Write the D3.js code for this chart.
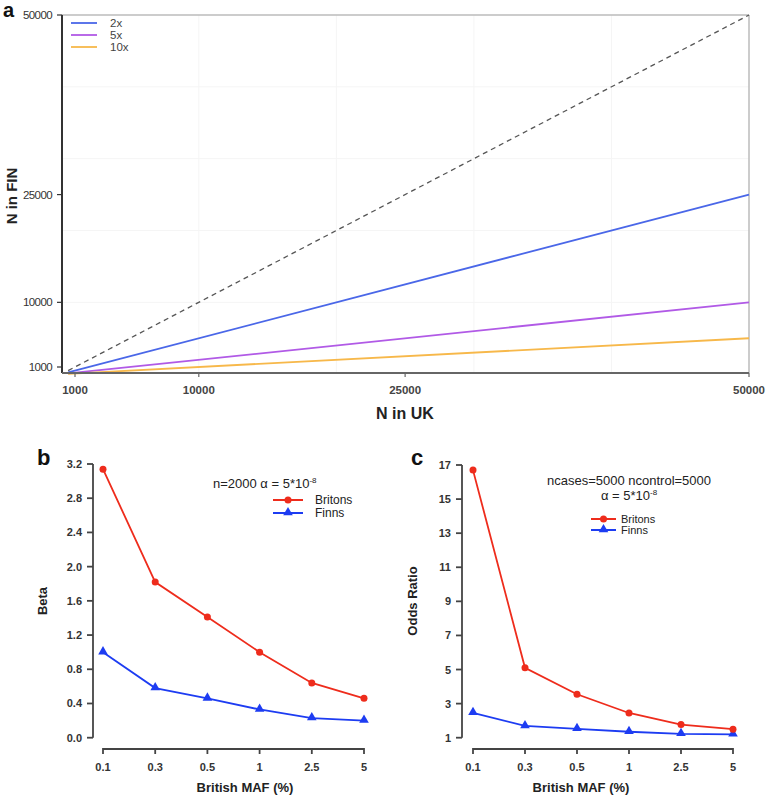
<!DOCTYPE html>
<html><head><meta charset="utf-8">
<script src="https://cdn.jsdelivr.net/npm/d3@7"></script>
<style>
body{margin:0;background:#fff;}
svg{display:block;font-family:"Liberation Sans",Arial,sans-serif;}
</style></head>
<body>
<svg id="chart" width="768" height="796"></svg>
<script>
// ---------- Panel a data ----------
const aTicksX = [1000, 10000, 25000, 50000];
const aTicksY = [1000, 10000, 25000, 50000];
const aGrid = [10000, 20000, 30000, 40000];
const ukN = [500, 50000];
const finEqual = [500, 50000];
const fin2x = [250, 25000];
const fin5x = [100, 10000];
const fin10x = [50, 5000];
const aLegend = ["2x", "5x", "10x"];

// ---------- Panel b/c data ----------
const mafCats = ["0.1", "0.3", "0.5", "1", "2.5", "5"];
const betaBritons = [3.14, 1.82, 1.41, 1.0, 0.64, 0.46];
const betaFinns = [1.0, 0.58, 0.46, 0.33, 0.23, 0.20];
const betaTicks = [0.0, 0.4, 0.8, 1.2, 1.6, 2.0, 2.4, 2.8, 3.2];
const orBritons = [16.7, 5.1, 3.55, 2.45, 1.77, 1.5];
const orFinns = [2.46, 1.69, 1.52, 1.35, 1.23, 1.2];
const orTicks = [1, 3, 5, 7, 9, 11, 13, 15, 17];
const seriesNames = ["Britons", "Finns"];

const svg = d3.select("#chart");
const colBlue = "#4a67e8", colPurple = "#b15ae6", colOrange = "#f7b84a";
const red = "#ee2c1c", blue = "#1d3cf2";

// ================= Panel a =================
const ax = d3.scaleLinear().domain([1000, 50000]).range([75, 749]);
const ay = d3.scaleLinear().domain([1000, 50000]).range([367, 15]);
const aLeft = 62, aRight = 749, aTop = 15, aBottom = 373;
const ga = svg.append("g");

// grid
ga.selectAll("line.gx").data(aGrid).join("line")
  .attr("x1", d => ax(d)).attr("x2", d => ax(d)).attr("y1", aTop).attr("y2", aBottom)
  .attr("stroke", "#f5f5f5").attr("stroke-width", 1);
ga.selectAll("line.gy").data(aGrid).join("line")
  .attr("y1", d => ay(d)).attr("y2", d => ay(d)).attr("x1", aLeft).attr("x2", aRight)
  .attr("stroke", "#f5f5f5").attr("stroke-width", 1);
// frame (top/right)
ga.append("line").attr("x1", aLeft).attr("x2", aRight).attr("y1", aTop).attr("y2", aTop).attr("stroke", "#bbb").attr("stroke-width", 1.5);
ga.append("line").attr("x1", aRight).attr("x2", aRight).attr("y1", aTop).attr("y2", aBottom).attr("stroke", "#bbb").attr("stroke-width", 1.5);

// lines
const aLine = d3.line().x(d => ax(d[0])).y(d => ay(d[1]));
const mk = arr => ukN.map((u, i) => [u, arr[i]]);
ga.append("path").attr("d", aLine(mk(finEqual))).attr("fill", "none").attr("stroke", "#555").attr("stroke-width", 1.3).attr("stroke-dasharray", "5,4");
[[fin2x, colBlue], [fin5x, colPurple], [fin10x, colOrange]].forEach(([arr, c]) => {
  ga.append("path").attr("d", aLine(mk(arr))).attr("fill", "none").attr("stroke", c).attr("stroke-width", 1.8);
});

// axes
ga.append("line").attr("x1", aLeft).attr("x2", aLeft).attr("y1", aTop).attr("y2", aBottom).attr("stroke", "#333").attr("stroke-width", 2);
ga.append("line").attr("x1", aLeft).attr("x2", aRight).attr("y1", aBottom).attr("y2", aBottom).attr("stroke", "#666").attr("stroke-width", 2);
ga.selectAll("line.ty").data(aTicksY).join("line")
  .attr("x1", aLeft - 5).attr("x2", aLeft).attr("y1", d => ay(d)).attr("y2", d => ay(d)).attr("stroke", "#333").attr("stroke-width", 1.2);
ga.selectAll("text.ty").data(aTicksY).join("text")
  .attr("x", aLeft - 10).attr("y", d => ay(d) + 4).attr("text-anchor", "end")
  .attr("font-family", "'Liberation Sans Narrow','Arial Narrow',sans-serif").attr("font-size", 11.5)
  .attr("fill", "#333").style("letter-spacing", "-0.6px").text(d => d);
ga.selectAll("line.tx").data(aTicksX).join("line")
  .attr("y1", aBottom).attr("y2", aBottom + 4).attr("x1", d => ax(d)).attr("x2", d => ax(d)).attr("stroke", "#666").attr("stroke-width", 1.2);
ga.selectAll("text.tx").data(aTicksX).join("text")
  .attr("x", d => ax(d)).attr("y", 394).attr("text-anchor", "middle")
  .attr("font-size", 11.5).attr("font-weight", "bold").attr("fill", "#444").text(d => d);
ga.append("text").attr("x", 405).attr("y", 419).attr("text-anchor", "middle").attr("font-size", 16).attr("font-weight", "bold").attr("fill", "#222").text("N in UK");
ga.append("text").attr("transform", "translate(17,196) rotate(-90)").attr("text-anchor", "middle").attr("font-size", 15).attr("font-weight", "bold").attr("fill", "#222").text("N in FIN");
ga.append("text").attr("x", 3).attr("y", 17).attr("font-size", 20).attr("font-weight", "bold").attr("fill", "#111").text("a");

// legend
[colBlue, colPurple, colOrange].forEach((c, i) => {
  const y = 23 + i * 12;
  ga.append("line").attr("x1", 71).attr("x2", 97).attr("y1", y).attr("y2", y).attr("stroke", c).attr("stroke-width", 1.8);
  ga.append("text").attr("x", 110).attr("y", y + 4).attr("font-size", 11.5).attr("fill", "#444").text(aLegend[i]);
});

// ================= Panels b / c =================
function drawPanel(opts) {
  const g = svg.append("g");
  const x = d3.scalePoint().domain(mafCats).range(opts.xRange);
  const y = d3.scaleLinear().domain(opts.yDomain).range([737.7, opts.yTop]);
  const axisX = opts.axisX, axisY = 749;
  const lc = "#444";
  // y axis
  g.append("line").attr("x1", axisX).attr("x2", axisX).attr("y1", y(opts.yDomain[0])).attr("y2", y(opts.yDomain[1])).attr("stroke", lc).attr("stroke-width", 1.8);
  g.selectAll("line.yt").data(opts.yTicks).join("line")
    .attr("x1", axisX - 6).attr("x2", axisX).attr("y1", d => y(d)).attr("y2", d => y(d)).attr("stroke", lc).attr("stroke-width", 1.8);
  g.selectAll("text.yt").data(opts.yTicks).join("text")
    .attr("x", axisX - 11).attr("y", d => y(d) + 4).attr("text-anchor", "end")
    .attr("font-size", 11).attr("font-weight", "bold").attr("fill", "#333").text(opts.yFmt);
  // x axis
  g.append("line").attr("x1", x(mafCats[0])).attr("x2", x(mafCats[mafCats.length - 1])).attr("y1", axisY).attr("y2", axisY).attr("stroke", lc).attr("stroke-width", 1.8);
  g.selectAll("line.xt").data(mafCats).join("line")
    .attr("x1", d => x(d)).attr("x2", d => x(d)).attr("y1", axisY - 1).attr("y2", axisY + 5).attr("stroke", lc).attr("stroke-width", 1.8);
  g.selectAll("text.xt").data(mafCats).join("text")
    .attr("x", d => x(d)).attr("y", 771).attr("text-anchor", "middle")
    .attr("font-size", 11).attr("font-weight", "bold").attr("fill", "#333").text(d => d);
  g.append("text").attr("x", opts.xTitleX).attr("y", 792).attr("text-anchor", "middle").attr("font-size", 13).attr("font-weight", "bold").attr("fill", "#222").text("British MAF (%)");
  g.append("text").attr("transform", `translate(${opts.yTitleX},601) rotate(-90)`).attr("text-anchor", "middle").attr("font-size", 13).attr("font-weight", "bold").attr("fill", "#222").text(opts.yTitle);
  g.append("text").attr("x", opts.labelX).attr("y", 465).attr("font-size", 22).attr("font-weight", "bold").attr("fill", "#111").text(opts.label);

  const line = d3.line().x((d, i) => x(mafCats[i])).y(d => y(d));
  const tri = d3.symbol().type(d3.symbolTriangle).size(40);
  // Finns
  g.append("path").attr("d", line(opts.finns)).attr("fill", "none").attr("stroke", blue).attr("stroke-width", 1.8);
  g.selectAll("path.ft").data(opts.finns).join("path")
    .attr("d", tri).attr("transform", (d, i) => `translate(${x(mafCats[i])},${y(d) - 0.5})`).attr("fill", blue);
  // Britons
  g.append("path").attr("d", line(opts.britons)).attr("fill", "none").attr("stroke", red).attr("stroke-width", 1.8);
  g.selectAll("circle.bc").data(opts.britons).join("circle")
    .attr("cx", (d, i) => x(mafCats[i])).attr("cy", d => y(d)).attr("r", 3.5).attr("fill", red);

  // annotation
  opts.annot(g);
  // legend
  const L = opts.legend;
  [[red, "c"], [blue, "t"]].forEach(([c, m], i) => {
    const ly = L.y + i * L.dy;
    g.append("line").attr("x1", L.x1).attr("x2", L.x2).attr("y1", ly).attr("y2", ly).attr("stroke", c).attr("stroke-width", 2);
    const mx = (L.x1 + L.x2) / 2;
    if (m === "c") g.append("circle").attr("cx", mx).attr("cy", ly).attr("r", 3.5).attr("fill", c);
    else g.append("path").attr("d", tri).attr("transform", `translate(${mx},${ly - 0.5})`).attr("fill", c);
    g.append("text").attr("x", L.tx).attr("y", ly + 4).attr("font-size", L.fs).attr("fill", "#222").text(seriesNames[i]);
  });
}

function alphaText(g, x, y, anchor, prefix) {
  const t = g.append("text").attr("x", x).attr("y", y).attr("text-anchor", anchor).attr("font-size", 13).attr("fill", "#222");
  t.append("tspan").text(prefix + "\u03B1 = 5*10");
  t.append("tspan").attr("dy", -5).attr("font-size", 8).text("-8");
}

drawPanel({
  xRange: [103, 364], yDomain: [0, 3.2], yTop: 464, yTicks: betaTicks, yFmt: d => d.toFixed(1),
  axisX: 93, britons: betaBritons, finns: betaFinns, yTitle: "Beta", yTitleX: 47, xTitleX: 245,
  label: "b", labelX: 37,
  annot: g => alphaText(g, 213, 488, "start", "n=2000 "),
  legend: { x1: 273, x2: 303, y: 500, dy: 13, tx: 315, fs: 12 }
});

drawPanel({
  xRange: [473, 733], yDomain: [1, 17], yTop: 465, yTicks: orTicks, yFmt: d => d,
  axisX: 462, britons: orBritons, finns: orFinns, yTitle: "Odds Ratio", yTitleX: 417, xTitleX: 581,
  label: "c", labelX: 411,
  annot: g => {
    g.append("text").attr("x", 629).attr("y", 485).attr("text-anchor", "middle").attr("font-size", 13).attr("fill", "#222").text("ncases=5000 ncontrol=5000");
    alphaText(g, 629, 500, "middle", "");
  },
  legend: { x1: 591, x2: 616, y: 519, dy: 11, tx: 621, fs: 11 }
});
</script>
</body></html>
